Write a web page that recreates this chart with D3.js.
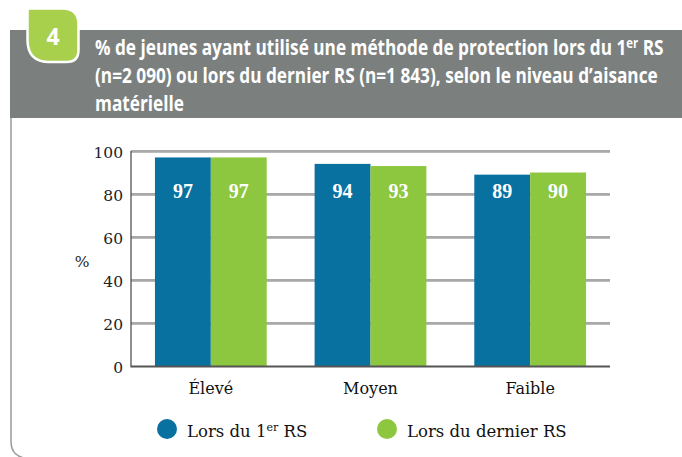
<!DOCTYPE html>
<html>
<head>
<meta charset="utf-8">
<script src="https://cdn.jsdelivr.net/npm/d3@7/dist/d3.min.js"></script>
<style>
  html, body { margin: 0; padding: 0; background: #fff; }
  svg { display: block; }
</style>
</head>
<body>
<svg id="chart" width="682" height="457"></svg>
<script>
// Share of young people who used protection, by level of material wealth
const categories = ["Élevé", "Moyen", "Faible"];
const firstRS = [97, 94, 89];   // Lors du 1er RS
const lastRS  = [97, 93, 90];   // Lors du dernier RS
const yTicks  = [0, 20, 40, 60, 80, 100];
const seriesNames = ["first", "last"];

const blue = "#0871a0";
const green = "#8dc63f";

const svg = d3.select("#chart");
const W = 682, H = 457;

// ---- frame: left rule with rounded bottom corner
svg.append("path")
  .attr("d", "M11,118 L11,442 Q11,455 24,458")
  .attr("fill", "none")
  .attr("stroke", "#9b9b9b")
  .attr("stroke-width", 1.5);

// ---- header band
svg.append("rect")
  .attr("x", 10).attr("y", 30)
  .attr("width", W - 10).attr("height", 88)
  .attr("fill", "#7b807f");

// number badge
const bx0 = 27.5, bx1 = 78.5, by0 = 8.5, by1 = 62;
svg.append("path")
  .attr("d", `M${bx0 + 2},${by0} L${bx1 - 16},${by0} Q${bx1},${by0} ${bx1},${by0 + 16}
              L${bx1},${by1 - 12} Q${bx1},${by1} ${bx1 - 12},${by1}
              L${bx0 + 22},${by1} Q${bx0},${by1} ${bx0},${by1 - 22}
              L${bx0},${by0 + 2} Q${bx0},${by0} ${bx0 + 2},${by0} Z`)
  .attr("fill", "#a8d04c")
  .attr("stroke", "#fff")
  .attr("stroke-width", 2.5);
svg.append("text")
  .attr("x", 53).attr("y", 45)
  .attr("text-anchor", "middle")
  .attr("fill", "#fff")
  .attr("font-family", "'Open Sans', sans-serif")
  .attr("font-weight", 700)
  .attr("font-size", 23)
  .text("4");

// title, three lines, horizontally condensed
const titleG = svg.append("g");
const titleFont = "'Open Sans', sans-serif";
const tSize = 21;
const l1 = titleG.append("text").attr("x", 0).attr("y", 55);
l1.append("tspan").text("% de jeunes ayant utilisé une méthode de protection lors du 1");
l1.append("tspan").attr("font-size", tSize * 0.66).attr("dy", -7).text("er");
l1.append("tspan").attr("dy", 7).text(" RS");
titleG.append("text").attr("x", 0).attr("y", 83)
  .text("(n=2 090) ou lors du dernier RS (n=1 843), selon le niveau d’aisance");
titleG.append("text").attr("x", 0).attr("y", 111).text("matérielle");
titleG.selectAll("text")
  .attr("fill", "#fff")
  .attr("font-family", titleFont)
  .attr("font-weight", 700)
  .attr("font-size", tSize);
const w1 = l1.node().getComputedTextLength();
const sx = 569 / w1;
titleG.attr("transform", `translate(95,0) scale(${sx},1)`);

// ---- plot
const margin = { left: 131, right: 72, top: 151, bottom: 91 };
const x0 = d3.scaleBand()
  .domain(categories)
  .range([margin.left, W - margin.right])
  .paddingInner(0.3)
  .paddingOuter(0.15);
const x1 = d3.scaleBand()
  .domain(seriesNames)
  .range([0, x0.bandwidth()]);
const y = d3.scaleLinear()
  .domain([0, 100])
  .range([H - margin.bottom, margin.top]);

const serifFont = "'DejaVu Serif', serif";

// gridlines
const grid = svg.append("g");
grid.selectAll("line.g1")
  .data(yTicks.filter(d => d > 0))
  .join("line")
  .attr("x1", margin.left).attr("x2", W - margin.right)
  .attr("y1", d => y(d)).attr("y2", d => y(d))
  .attr("stroke", "#555")
  .attr("stroke-width", 1.2);
grid.selectAll("line.g2")
  .data(yTicks.filter(d => d > 0))
  .join("line")
  .attr("x1", margin.left).attr("x2", W - margin.right)
  .attr("y1", d => y(d) + 1.3).attr("y2", d => y(d) + 1.3)
  .attr("stroke", "#aaa")
  .attr("stroke-width", 1);

// bars
const rows = categories.map((c, i) => ({ cat: c, first: firstRS[i], last: lastRS[i] }));
const groups = svg.append("g")
  .selectAll("g")
  .data(rows)
  .join("g")
  .attr("transform", d => `translate(${x0(d.cat)},0)`);

groups.selectAll("rect")
  .data(d => seriesNames.map(k => ({ key: k, value: d[k] })))
  .join("rect")
  .attr("x", d => x1(d.key))
  .attr("y", d => y(d.value))
  .attr("width", x1.bandwidth())
  .attr("height", d => y(0) - y(d.value))
  .attr("fill", d => d.key === "first" ? blue : green);

groups.selectAll("text")
  .data(d => seriesNames.map(k => ({ key: k, value: d[k] })))
  .join("text")
  .attr("x", d => x1(d.key) + x1.bandwidth() / 2)
  .attr("y", y(100) + 47)
  .attr("text-anchor", "middle")
  .attr("fill", "#fff")
  .attr("font-family", "'Liberation Serif', serif")
  .attr("font-weight", 700)
  .attr("font-size", 20)
  .text(d => d.value);

// y axis line
svg.append("line")
  .attr("x1", margin.left).attr("x2", margin.left)
  .attr("y1", y(100)).attr("y2", y(0))
  .attr("stroke", "#444")
  .attr("stroke-width", 1.2);
// baseline
svg.append("line")
  .attr("x1", margin.left - 0.6).attr("x2", W - margin.right)
  .attr("y1", y(0) + 0.5).attr("y2", y(0) + 0.5)
  .attr("stroke", "#555")
  .attr("stroke-width", 2);

// y tick labels
svg.append("g")
  .selectAll("text")
  .data(yTicks)
  .join("text")
  .attr("x", margin.left - 8)
  .attr("y", d => y(d) + 7)
  .attr("text-anchor", "end")
  .attr("fill", "#222")
  .attr("font-family", serifFont)
  .attr("font-size", 15.5)
  .text(d => d);

svg.append("text")
  .attr("x", 82).attr("y", 267)
  .attr("text-anchor", "middle")
  .attr("fill", "#222")
  .attr("font-family", serifFont)
  .attr("font-size", 15.5)
  .text("%");

// category labels
svg.append("g")
  .selectAll("text")
  .data(categories)
  .join("text")
  .attr("x", d => x0(d) + x0.bandwidth() / 2)
  .attr("y", 394)
  .attr("text-anchor", "middle")
  .attr("fill", "#111")
  .attr("font-family", serifFont)
  .attr("font-size", 16)
  .text(d => d);

// legend
const legend = svg.append("g");
const items = [
  { key: "first", cx: 167, tx: 187, color: blue },
  { key: "last", cx: 387, tx: 407, color: green }
];
items.forEach(it => {
  legend.append("circle")
    .attr("cx", it.cx).attr("cy", 429).attr("r", 10)
    .attr("fill", it.color);
  const t = legend.append("text")
    .attr("x", it.tx).attr("y", 437)
    .attr("fill", "#111")
    .attr("font-family", serifFont)
    .attr("font-size", 16.5);
  if (it.key === "first") {
    t.append("tspan").text("Lors du 1");
    t.append("tspan").attr("font-size", 11).attr("dy", -6).text("er");
    t.append("tspan").attr("dy", 6).text(" RS");
  } else {
    t.text("Lors du dernier RS");
  }
});
</script>
</body>
</html>
